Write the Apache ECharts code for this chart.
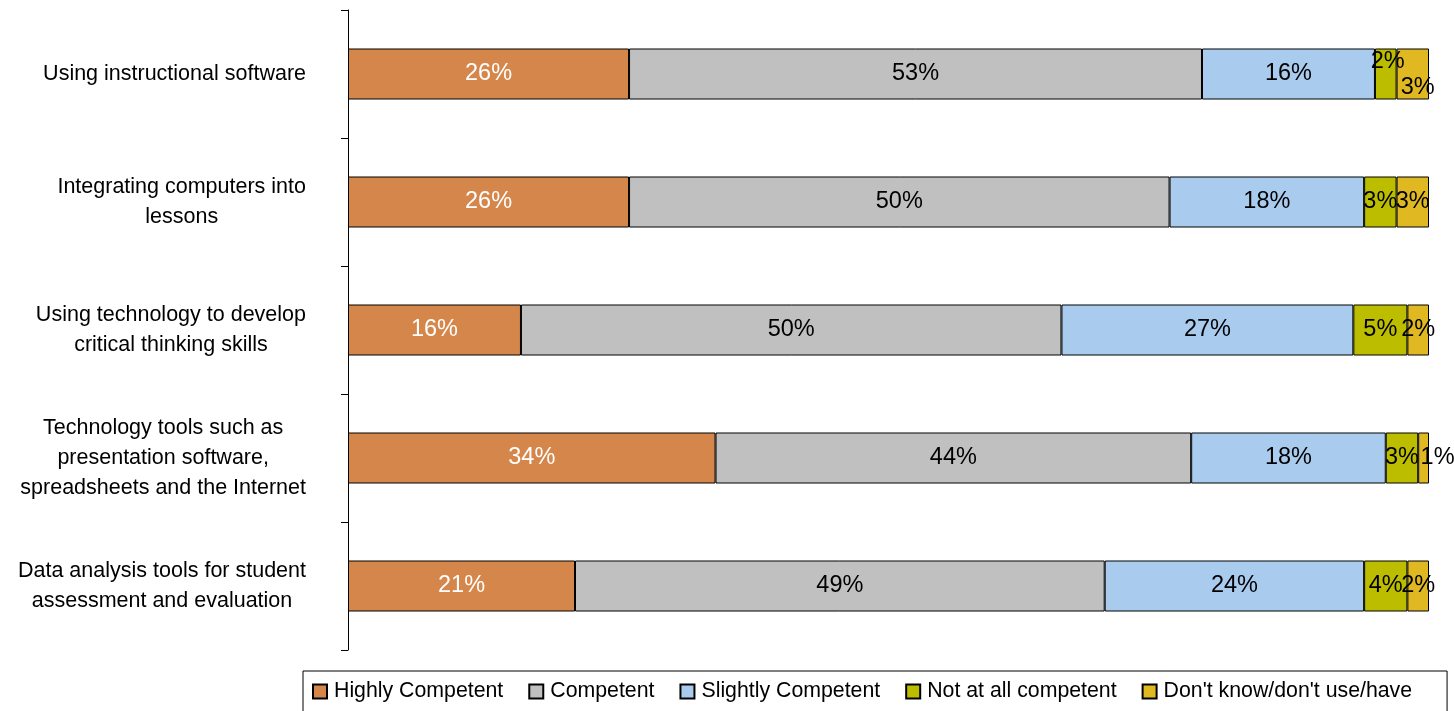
<!DOCTYPE html>
<html>
<head>
<meta charset="utf-8">
<script src="https://cdn.jsdelivr.net/npm/echarts@6/dist/echarts.min.js"></script>
<style>
html,body{margin:0;padding:0;background:#fff;}
#chart{width:1454px;height:711px;}
</style>
</head>
<body>
<div id="chart"></div>
<script>
var categories = [
  "Using instructional software",
  "Integrating computers into\nlessons",
  "Using technology to develop\ncritical thinking skills",
  "Technology tools such as\npresentation software,\nspreadsheets and the Internet",
  "Data analysis tools for student\nassessment and evaluation"
];
var seriesNames = ["Highly Competent", "Competent", "Slightly Competent", "Not at all competent", "Don't know/don't use/have"];
var highlyCompetent = [26, 26, 16, 34, 21];
var competent = [53, 50, 50, 44, 49];
var slightlyCompetent = [16, 18, 27, 18, 24];
var notAtAllCompetent = [2, 3, 5, 3, 4];
var dontKnow = [3, 3, 2, 1, 2];

var values = [highlyCompetent, competent, slightlyCompetent, notAtAllCompetent, dontKnow];
var colors = ['#D5864A', '#C0C0C0', '#A9CBEE', '#BDBD00', '#E0B822'];
var labelColors = ['#ffffff', '#000000', '#000000', '#000000', '#000000'];
// label nudges for crowded segments: [series, row, dx, dy]
var nudges = [[3, 0, 2, -12], [4, 0, 5, 14], [4, 3, 14, 0]];

var FONT = "'Liberation Sans', Arial, sans-serif";

var series = values.map(function (arr, si) {
  return {
    name: seriesNames[si],
    type: 'bar',
    stack: 'total',
    barWidth: 51,
    itemStyle: { color: colors[si], borderColor: '#000', borderWidth: 1 },
    label: {
      show: true,
      position: 'inside',
      color: labelColors[si],
      fontFamily: FONT,
      fontSize: 23.5,
      formatter: '{c}%'
    },
    data: arr.map(function (v, ri) {
      var item = { value: v };
      nudges.forEach(function (n) {
        if (n[0] === si && n[1] === ri) {
          item.label = { offset: [n[2], n[3]] };
        }
      });
      return item;
    })
  };
});

var chart = echarts.init(document.getElementById('chart'), null, { renderer: 'canvas' });
chart.setOption({
  backgroundColor: '#fff',
  animation: false,
  textStyle: { fontFamily: FONT },
  grid: { left: 348, top: 10, width: 1081, height: 640, containLabel: false },
  xAxis: {
    type: 'value', min: 0, max: 100, show: false,
    splitLine: { show: false }
  },
  yAxis: {
    type: 'category',
    inverse: true,
    data: categories,
    axisLine: { show: true, lineStyle: { color: '#000', width: 1 } },
    axisTick: { show: true, length: 7, lineStyle: { color: '#000' } },
    axisLabel: {
      margin: 42,
      fontFamily: FONT,
      fontSize: 21.5,
      color: '#000',
      lineHeight: 30,
      formatter: function (v) {
        return v.split('\n').map(function (l) { return '{c|' + l + '}'; }).join('\n');
      },
      rich: { c: { align: 'center', fontSize: 21.5, lineHeight: 30, fontFamily: FONT, color: '#000' } }
    }
  },
  legend: {
    left: 303,
    top: 671,
    width: 1300,
    orient: 'horizontal',
    icon: 'rect',
    itemWidth: 14,
    itemHeight: 14,
    itemGap: 25,
    borderColor: '#000',
    borderWidth: 1,
    borderRadius: 0,
    padding: [10, 35, 10, 9],
    textStyle: { fontFamily: FONT, fontSize: 21.3, color: '#000', lineHeight: 20, padding: [0, 0, 0, 2] },
    data: seriesNames
  },
  series: series
});
</script>
</body>
</html>
